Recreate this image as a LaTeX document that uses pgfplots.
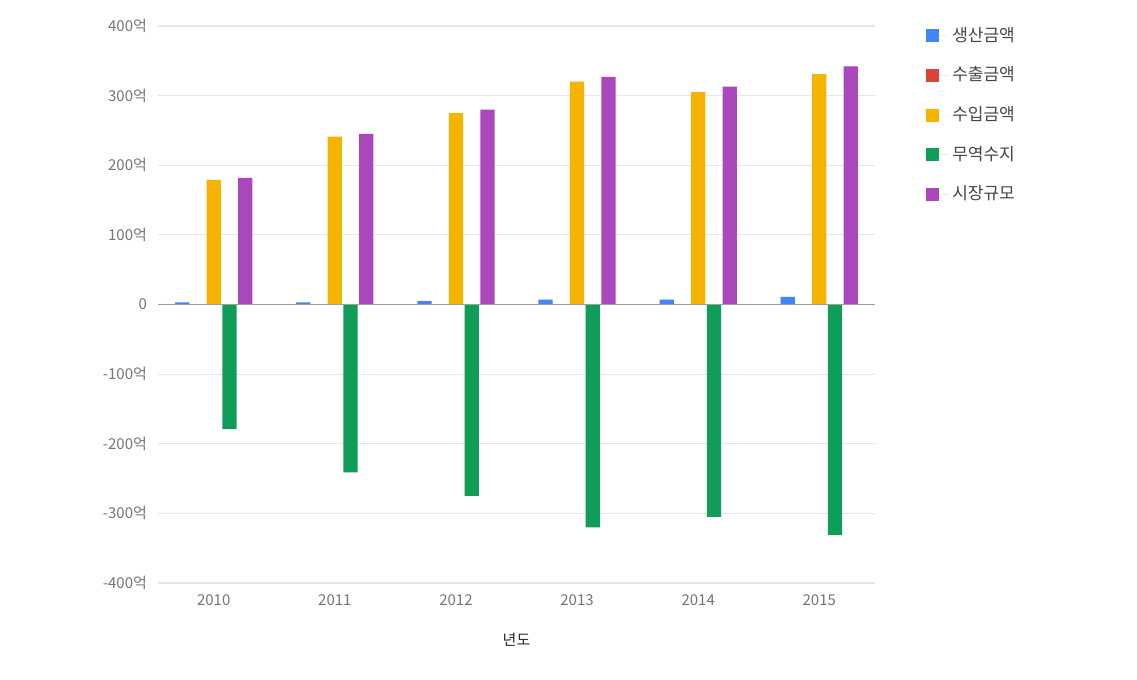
\documentclass[border=0pt]{standalone}
\usepackage{pgfplots}
\pgfplotsset{compat=1.18}
\usepackage{fontspec}
\setmainfont{Noto Sans CJK KR}
\definecolor{cblue}{HTML}{4285F4}
\definecolor{cred}{HTML}{DB4437}
\definecolor{cyellow}{HTML}{F4B400}
\definecolor{cgreen}{HTML}{0F9D58}
\definecolor{cpurple}{HTML}{AB47BC}
\definecolor{gridgray}{HTML}{E6E6E6}
\definecolor{zerogray}{HTML}{9E9E9E}
\definecolor{tickgray}{HTML}{757575}
\definecolor{legtext}{HTML}{444444}
\pgfplotsset{sqlegend/.style={legend image code/.code={\fill[##1] (0pt,-3.25pt) rectangle (6.5pt,3.25pt); \path (0pt,0pt) -- (11pt,0pt);}}}
\begin{document}
\begin{tikzpicture}
\path[use as bounding box] (-79pt,-48.5pt) rectangle (489.5pt,291.5pt);
\begin{axis}[
  at={(0,0)}, anchor=south west,
  width=358.5pt, height=278.5pt, scale only axis,
  xmin=-0.46, xmax=5.46, ymin=-400, ymax=400,
  xtick={0,1,2,3,4,5}, xticklabels={2010,2011,2012,2013,2014,2015},
  ytick={-400,-300,-200,-100,0,100,200,300,400},
  yticklabels={-400억,-300억,-200억,-100억,0,100억,200억,300억,400억},
  ymajorgrids, grid style={draw=gridgray, line width=0.6pt},
  axis line style={draw=none}, major tick length=0pt,
  tick label style={font=\fontsize{7.5}{9}\selectfont, text=tickgray},
  xticklabel style={anchor=center, yshift=-8.5pt},
  yticklabel style={xshift=-2pt},
  xlabel={년도},
  xlabel style={at={(rel axis cs:0.5,0)}, anchor=center, yshift=-28.5pt, font=\fontsize{7.5}{9}\selectfont, text=black!85},
  ybar, bar width=0.118,
  legend style={at={(1.071,1.006)}, anchor=north west, draw=none, fill=none, inner sep=0pt,
    font=\fontsize{8.5}{10}\selectfont, text=legtext, row sep=7.3pt,
    cells={anchor=west}},
  legend cell align=left,
]
\addplot[fill=cblue, draw=none, bar shift=-0.26, sqlegend] coordinates {(0,3) (1,3) (2,5) (3,7) (4,7) (5,11)};
\addplot[fill=cred, draw=none, bar shift=-0.13, sqlegend] coordinates {(0,0) (1,0) (2,0) (3,0) (4,0) (5,0)};
\addplot[fill=cyellow, draw=none, bar shift=0, sqlegend] coordinates {(0,179) (1,241) (2,275) (3,320) (4,305) (5,331)};
\addplot[fill=cgreen, draw=none, bar shift=0.13, sqlegend] coordinates {(0,-179) (1,-241) (2,-275) (3,-320) (4,-305) (5,-331)};
\addplot[fill=cpurple, draw=none, bar shift=0.26, sqlegend] coordinates {(0,182) (1,245) (2,280) (3,327) (4,313) (5,342)};
\legend{생산금액,수출금액,수입금액,무역수지,시장규모}
\draw[zerogray, line width=0.7pt] (axis cs:-0.46,0) -- (axis cs:5.46,0);
\end{axis}
\end{tikzpicture}
\end{document}
